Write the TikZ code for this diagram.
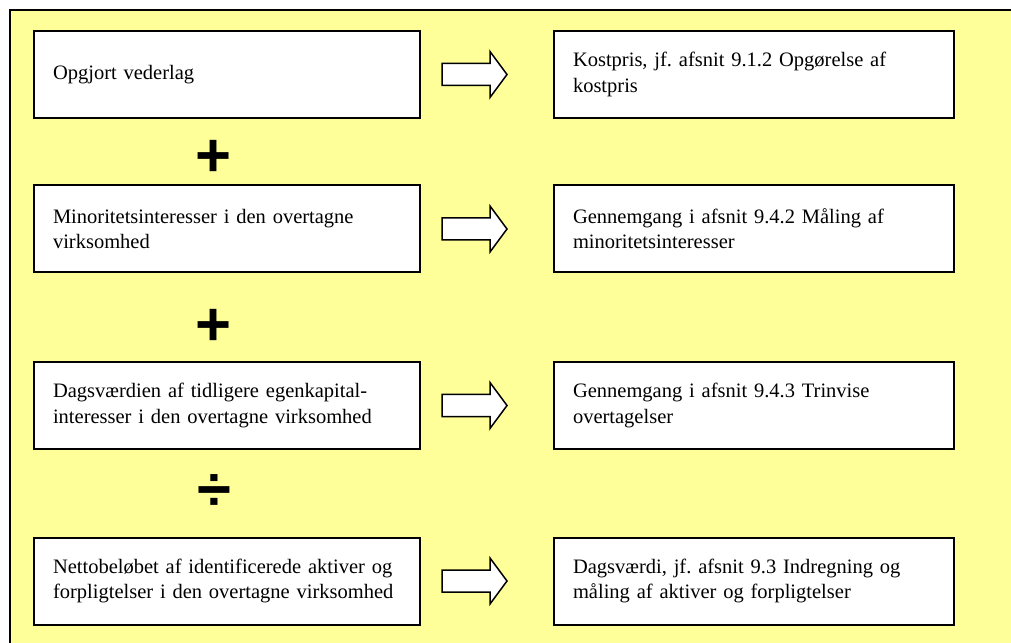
\documentclass[tikz,border=0pt]{standalone}
\usepackage{fontspec}
\setmainfont{Liberation Serif}
\newfontfamily\signfont{Liberation Sans}
\usetikzlibrary{calc}
\definecolor{bgyellow}{RGB}{255,255,153}
\frenchspacing
\begin{document}
\begin{tikzpicture}[x=0.6pt,y=-0.6pt,
  box/.style={draw=black, line width=1.2pt, fill=white, minimum height=52.2pt,
    inner xsep=11.4pt, inner ysep=0pt, align=left,
    font=\fontsize{12.3}{15.2}\selectfont\frenchspacing},
  lbox/.style={box, text width=208.8pt},
  rbox/.style={box, text width=217.2pt},
  blockarrow/.style={draw=black, line width=0.9pt, fill=white, line join=miter},
  sign/.style={font=\fontsize{37}{37}\selectfont\signfont\bfseries, inner sep=0pt}
]
\useasboundingbox (0,0) rectangle (1011,643);
\fill[white] (0,0) rectangle (1011,643);
\fill[bgyellow] (10,10) rectangle (1011,643);
\draw[line width=1pt] (1011,10) -- (10,10) -- (10,643);

\node[lbox] (l1) at (227,74.5) {Opgjort vederlag};
\node[rbox] (r1) at (754,74.5) {Kostpris, jf. afsnit 9.1.2 Opgørelse af\\kostpris};
\node[lbox] (l2) at (227,229) {Minoritetsinteresser i den overtagne\\virksomhed};
\node[rbox] (r2) at (754,229) {Gennemgang i afsnit 9.4.2 Måling af\\minoritetsinteresser};
\node[lbox] (l3) at (227,405.5) {Dagsværdien af tidligere egenkapital-\\interesser i den overtagne virksomhed};
\node[rbox] (r3) at (754,405.5) {Gennemgang i afsnit 9.4.3 Trinvise\\overtagelser};
\node[lbox] (l4) at (227,581) {Nettobeløbet af identificerede aktiver og\\forpligtelser i den overtagne virksomhed};
\node[rbox] (r4) at (754,581) {Dagsværdi, jf. afsnit 9.3 Indregning og\\måling af aktiver og forpligtelser};

\foreach \n in {1,2,3,4}{
  \begin{scope}[shift={(l\n.east)}]
    \draw[blockarrow] (21,-11) -- (69,-11) -- (69,-23) -- (86,0) -- (69,23) -- (69,11) -- (21,11) -- cycle;
  \end{scope}
}

\node[sign] (p1) at (214,158) {+};
\node[sign] (p2) at (214,327) {+};
\node[sign] (d1) at (214,493) {÷};
\end{tikzpicture}
\end{document}
